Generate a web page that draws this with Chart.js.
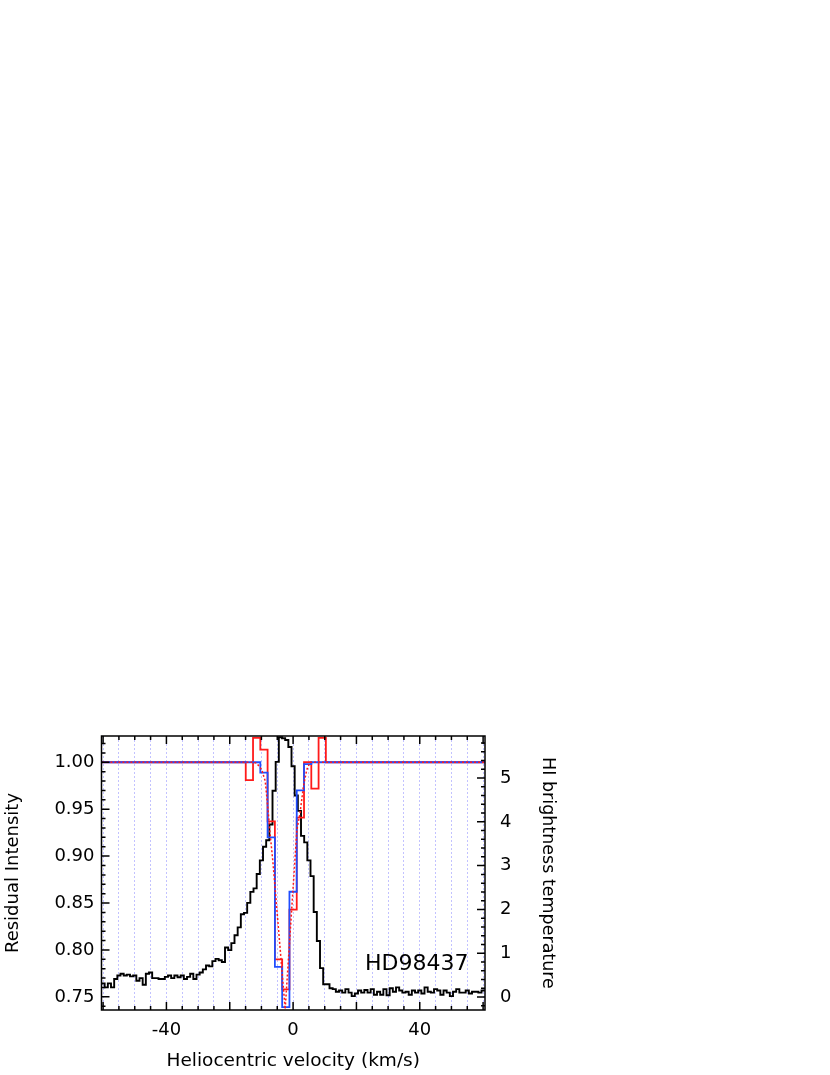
<!DOCTYPE html>
<html>
<head>
<meta charset="utf-8">
<script src="https://cdn.jsdelivr.net/npm/chart.js@4/dist/chart.umd.min.js"></script>
<style>
  html, body { margin: 0; padding: 0; background: #fff; }
  #wrap { position: relative; width: 830px; height: 1075px; }
</style>
</head>
<body>
<div id="wrap"><canvas id="chart"></canvas></div>
<script>
// HI emission profile (right axis), 1 km/s channels
const hiVelocity = [
  -61, -60, -59, -58, -57, -56, -55, -54, -53, -52, -51, -50, -49, -48, -47, -46, -45, -44, -43, -42, -41,
  -40, -39, -38, -37, -36, -35, -34, -33, -32, -31, -30, -29, -28, -27, -26, -25, -24, -23, -22, -21,
  -20, -19, -18, -17, -16, -15, -14, -13, -12, -11, -10, -9, -8, -7, -6, -5, -4, -3, -2, -1,
  0, 1, 2, 3, 4, 5, 6, 7, 8, 9, 10, 11, 12, 13, 14, 15, 16, 17, 18, 19,
  20, 21, 22, 23, 24, 25, 26, 27, 28, 29, 30, 31, 32, 33, 34, 35, 36, 37, 38, 39,
  40, 41, 42, 43, 44, 45, 46, 47, 48, 49, 50, 51, 52, 53, 54, 55, 56, 57, 58, 59, 60, 61
];
const hiTemp = [
  0.30, 0.31, 0.22, 0.31, 0.22, 0.41, 0.49, 0.53, 0.49, 0.51, 0.47, 0.49, 0.37, 0.43, 0.28, 0.53, 0.56, 0.43, 0.43, 0.41, 0.41,
  0.46, 0.49, 0.43, 0.49, 0.45, 0.49, 0.41, 0.46, 0.53, 0.41, 0.51, 0.56, 0.63, 0.72, 0.70, 0.82, 0.87, 0.84, 0.80, 1.13,
  1.07, 1.23, 1.41, 1.59, 1.89, 1.92, 2.15, 2.40, 2.48, 2.81, 3.12, 3.43, 3.58, 3.94, 4.71, 5.37, 5.93, 5.91, 5.87, 5.71,
  5.27, 4.60, 4.25, 3.68, 3.53, 3.12, 2.76, 1.94, 1.28, 0.66, 0.29, 0.29, 0.20, 0.18, 0.12, 0.15, 0.10, 0.18, 0.10, 0.02,
  0.08, 0.15, 0.10, 0.16, 0.10, 0.18, 0.05, 0.12, 0.05, 0.18, 0.04, 0.20, 0.12, 0.22, 0.15, 0.10, 0.12, 0.05, 0.15, 0.10,
  0.15, 0.08, 0.22, 0.12, 0.10, 0.18, 0.15, 0.05, 0.15, 0.10, 0.02, 0.12, 0.18, 0.10, 0.10, 0.15, 0.08, 0.12, 0.12, 0.10, 0.15, 0.15
];

// absorption line bins (left axis)
const binVelocity = [-64, -16.1, -13.8, -11.5, -9.2, -6.9, -4.6, -2.3, 0, 2.3, 4.6, 6.9, 9.2, 11.5, 64];
const observed    = [1, 1, 0.981, 1.026, 1.0135, 0.937, 0.790, 0.758, 0.843, 0.941, 1.000, 0.972, 1.026, 1, 1];
const modelBinned = [1, 1, 1, 1, 0.989, 0.920, 0.782, 0.739, 0.862, 0.970, 0.998, 1, 1, 1, 1];

// unbinned model profile
const modelVelocity = [-64, -12.6, -11.5, -9.9, -8.8, -8.3, -7.8, -7.3, -6.4, -2.5, 1.2, 2.2, 3.25, 4.3, 5.4, 64];
const modelCurve    = [1, 1, 0.999, 0.992, 0.980, 0.963, 0.945, 0.925, 0.895, 0.737, 0.928, 0.946, 0.974, 0.992, 1, 1];

const starName = 'HD98437';
const starLabelAt = [22.7, 0.7786];

const FONT = 'DejaVu Sans';
Chart.defaults.font.family = FONT;
Chart.defaults.color = '#000';

const toPoints = (xs, ys) => xs.map((v, i) => ({ x: v, y: ys[i] }));

const frameTicks = {
  id: 'frameTicks',
  afterDatasetsDraw(chart) {
    const { ctx, chartArea: a, scales } = chart;
    const { x, y, y2 } = scales;
    ctx.save();
    ctx.strokeStyle = '#000';
    ctx.lineWidth = 1.5;
    ctx.beginPath();
    for (let v = -60; v <= 60; v += 5) {
      const px = x.getPixelForValue(v);
      const len = v % 20 === 0 ? 8 : 4;
      ctx.moveTo(px, a.bottom); ctx.lineTo(px, a.bottom - len);
      ctx.moveTo(px, a.top); ctx.lineTo(px, a.top + len);
    }
    for (let i = 74; i <= 102; i++) {
      const py = y.getPixelForValue(i / 100);
      ctx.moveTo(a.left, py); ctx.lineTo(a.left + (i % 5 === 0 ? 8 : 4), py);
    }
    for (let i = -1; i <= 29; i++) {
      const py = y2.getPixelForValue(i / 5);
      ctx.moveTo(a.right, py); ctx.lineTo(a.right - (i % 5 === 0 ? 8 : 4), py);
    }
    ctx.stroke();
    ctx.strokeRect(a.left, a.top, a.right - a.left, a.bottom - a.top);

    ctx.fillStyle = '#000';
    ctx.font = `22px "${FONT}"`;
    ctx.textBaseline = 'alphabetic';
    ctx.textAlign = 'left';
    ctx.fillText(starName, x.getPixelForValue(starLabelAt[0]), y.getPixelForValue(starLabelAt[1]));
    ctx.restore();
  }
};

new Chart(document.getElementById('chart'), {
  type: 'line',
  data: {
    datasets: [
      {
        label: 'model',
        data: toPoints(modelVelocity, modelCurve),
        yAxisID: 'y',
        borderColor: '#ff1a1a',
        borderWidth: 1.5,
        borderDash: [2, 2],
        pointRadius: 0,
        tension: 0
      },
      {
        label: 'model binned',
        data: toPoints(binVelocity, modelBinned),
        yAxisID: 'y',
        stepped: 'middle',
        borderColor: '#1f4dff',
        borderWidth: 1.8,
        pointRadius: 0
      },
      {
        label: 'observed',
        data: toPoints(binVelocity, observed),
        yAxisID: 'y',
        stepped: 'middle',
        borderColor: '#ff1a1a',
        borderWidth: 1.8,
        pointRadius: 0
      },
      {
        label: 'HI',
        data: toPoints(hiVelocity, hiTemp),
        yAxisID: 'y2',
        stepped: 'middle',
        borderColor: '#000',
        borderWidth: 1.9,
        pointRadius: 0
      }
    ]
  },
  options: {
    responsive: true,
    maintainAspectRatio: false,
    animation: false,
    events: [],
    layout: { padding: { top: 736, right: 269, bottom: 0, left: 0 } },
    plugins: { legend: { display: false }, tooltip: { enabled: false } },
    scales: {
      x: {
        type: 'linear',
        position: 'bottom',
        min: -60.5,
        max: 60.6,
        afterFit: (s) => { s.height = 65; },
        grid: { color: 'rgba(120, 120, 255, 0.45)', lineWidth: 1, drawTicks: false },
        border: { display: false, dash: [2, 2] },
        ticks: {
          stepSize: 5,
          includeBounds: false,
          maxRotation: 0,
          autoSkip: false,
          padding: 10,
          font: { size: 18 },
          callback: (v) => (v % 40 === 0 ? String(v) : '')
        },
        title: {
          display: true,
          text: 'Heliocentric velocity (km/s)',
          font: { size: 18.5 },
          padding: { top: 0, bottom: 3 }
        }
      },
      y: {
        type: 'linear',
        position: 'left',
        min: 0.736,
        max: 1.028,
        afterFit: (s) => { s.width = 101.5; },
        grid: { display: false, drawTicks: false },
        border: { display: false },
        ticks: {
          stepSize: 0.05,
          includeBounds: false,
          padding: 7,
          font: { size: 18 },
          callback: (v) => v.toFixed(2)
        },
        title: {
          display: true,
          text: 'Residual Intensity',
          font: { size: 18 },
          padding: { top: 3, bottom: 0 }
        }
      },
      y2: {
        type: 'linear',
        position: 'right',
        min: -0.297,
        max: 5.96,
        afterFit: (s) => { s.width = 76; },
        grid: { display: false, drawTicks: false },
        border: { display: false },
        ticks: {
          stepSize: 1,
          includeBounds: false,
          padding: 15,
          font: { size: 18 },
          callback: (v) => String(v)
        },
        title: {
          display: true,
          text: 'HI brightness temperature',
          font: { size: 17.5 },
          padding: { top: 3, bottom: 0 }
        }
      }
    }
  },
  plugins: [frameTicks]
});
</script>
</body>
</html>
